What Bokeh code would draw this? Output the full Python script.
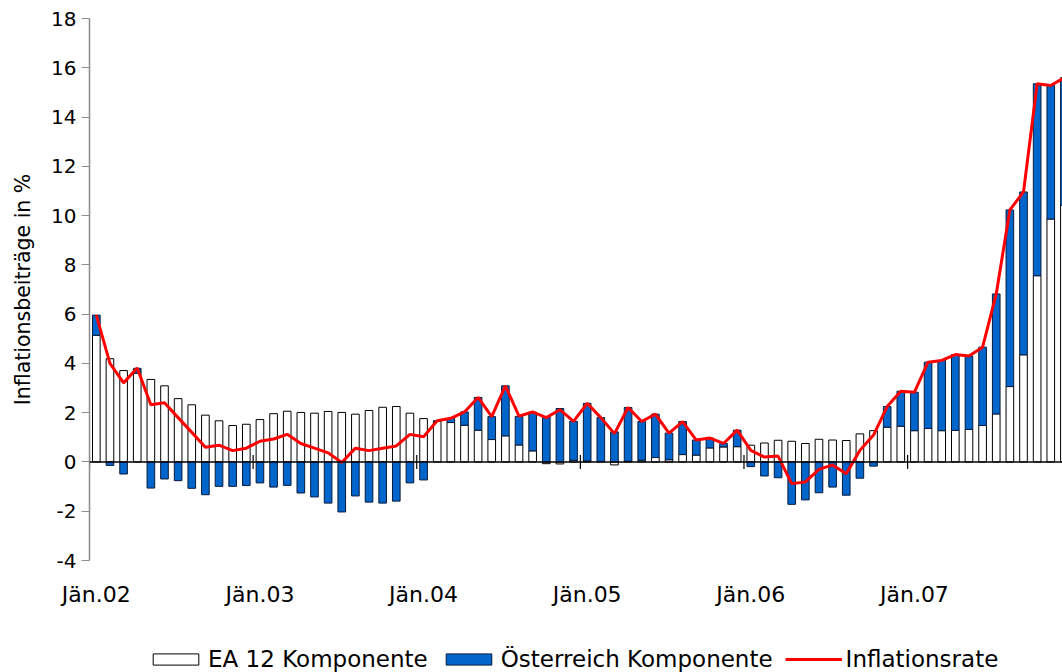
from bokeh.plotting import figure
from bokeh.layouts import column
from bokeh.models import Range1d, FixedTicker, LinearAxis, Legend, LegendItem, ColumnDataSource, Span
from bokeh.embed import file_html
from bokeh.resources import INLINE

# Monthly data Jän.02 .. Dez.07
months = list(range(72))
ea12 = [5.14, 4.19, 3.71, 3.60, 3.35, 3.09, 2.57, 2.32, 1.90, 1.67, 1.48, 1.53,
        1.72, 1.96, 2.06, 2.01, 1.98, 2.05, 2.01, 1.94, 2.09, 2.22, 2.25, 1.98,
        1.76, 1.65, 1.60, 1.49, 1.29, 0.91, 1.06, 0.69, 0.45, -0.07, -0.08, 0.07,
        0.04, 0.02, -0.12, 0.03, 0.07, 0.18, 0.09, 0.30, 0.28, 0.57, 0.61, 0.62,
        0.68, 0.77, 0.88, 0.84, 0.75, 0.92, 0.89, 0.87, 1.14, 1.27, 1.41, 1.45,
        1.27, 1.36, 1.27, 1.28, 1.32, 1.48, 1.95, 3.06, 4.35, 7.56, 9.86, 10.42]
austria = [0.82, -0.14, -0.49, 0.20, -1.06, -0.69, -0.76, -1.07, -1.33, -0.99, -0.99, -0.96,
           -0.85, -1.02, -0.95, -1.26, -1.42, -1.67, -2.03, -1.38, -1.63, -1.67, -1.59, -0.85,
           -0.73, 0.02, 0.17, 0.54, 1.33, 0.93, 2.03, 1.16, 1.57, 1.84, 2.17, 1.58,
           2.34, 1.78, 1.22, 2.18, 1.57, 1.76, 1.08, 1.34, 0.61, 0.40, 0.14, 0.67,
           -0.19, -0.57, -0.64, -1.72, -1.54, -1.25, -1.02, -1.35, -0.66, -0.17, 0.84, 1.42,
           1.56, 2.69, 2.85, 3.08, 2.98, 3.18, 4.87, 7.17, 6.61, 7.79, 5.42, 5.18]
inflation = [5.96, 4.00, 3.21, 3.81, 2.32, 2.40, 1.80, 1.20, 0.60, 0.68, 0.46, 0.56,
             0.84, 0.93, 1.12, 0.75, 0.56, 0.37, -0.02, 0.56, 0.46, 0.56, 0.65, 1.12,
             1.02, 1.67, 1.77, 2.03, 2.62, 1.84, 3.09, 1.86, 2.03, 1.80, 2.12, 1.65,
             2.38, 1.80, 1.15, 2.21, 1.64, 1.94, 1.17, 1.64, 0.89, 0.97, 0.75, 1.29,
             0.47, 0.20, 0.24, -0.88, -0.81, -0.30, -0.12, -0.48, 0.47, 1.09, 2.25, 2.87,
             2.83, 4.05, 4.12, 4.36, 4.30, 4.66, 6.82, 10.23, 10.96, 15.35, 15.28, 15.60]
year_ticks = [0, 12, 24, 36, 48, 60]
year_labels = ["Jän.02", "Jän.03", "Jän.04", "Jän.05", "Jän.06", "Jän.07"]
y_ticks = [-4, -2, 0, 2, 4, 6, 8, 10, 12, 14, 16, 18]
series_names = ["EA 12 Komponente", "Österreich Komponente", "Inflationsrate"]

# stacking (positive and negative parts stacked separately)
ea_bottom = [min(e, 0) for e in ea12]
ea_top = [max(e, 0) for e in ea12]
at_bottom, at_top = [], []
for e, a in zip(ea12, austria):
    if a >= 0:
        b = max(e, 0)
        at_bottom.append(b)
        at_top.append(b + a)
    else:
        t = min(e, 0)
        at_top.append(t)
        at_bottom.append(t + a)

src = ColumnDataSource(dict(x=months, ea_b=ea_bottom, ea_t=ea_top,
                            at_b=at_bottom, at_t=at_top, infl=inflation))

FONT = "DejaVu Sans"
FRAME_H = 542
Y0, Y1 = -4, 18
XR = (-0.5, 70.86)
WHITE_BAR = dict(fill_color="white", line_color="black", line_width=1)
BLUE_BAR = dict(fill_color="#0066CC", line_color="#0a1a3a", line_width=1)
RED_LINE = dict(line_color="#FF0000", line_width=3)

p = figure(frame_width=973, frame_height=FRAME_H, output_backend="svg", toolbar_location=None,
           x_range=Range1d(*XR), y_range=Range1d(Y0, Y1),
           x_axis_location=None, y_axis_location=None,
           min_border_left=89, min_border_right=0, min_border_top=18, min_border_bottom=86)
p.outline_line_color = None
p.xgrid.visible = False
p.ygrid.visible = False
p.background_fill_color = "white"
p.border_fill_color = "white"

p.vbar(x="x", bottom="ea_b", top="ea_t", width=0.56, source=src, **WHITE_BAR)
p.vbar(x="x", bottom="at_b", top="at_t", width=0.56, source=src, **BLUE_BAR)
p.line(x="x", y="infl", source=src, **RED_LINE)

# zero line with year-boundary cross ticks
p.add_layout(Span(location=0, dimension="width", line_color="black", line_width=1.5))
boundaries = [t - 0.5 for t in year_ticks]
half = 7 * (Y1 - Y0) / FRAME_H
p.segment(x0=boundaries, x1=boundaries, y0=[-half] * len(boundaries), y1=[half] * len(boundaries),
          line_color="black", line_width=1.2)

# y axis
yax = LinearAxis(ticker=FixedTicker(ticks=y_ticks),
                 major_label_overrides={t: str(t) for t in y_ticks if t < 0})
yax.axis_label = "Inflationsbeiträge in %"
yax.axis_label_text_font = FONT
yax.axis_label_text_font_size = "20.5px"
yax.axis_label_text_font_style = "normal"
yax.axis_label_text_color = "#000000"
yax.axis_label_standoff = 13
yax.major_label_text_font = FONT
yax.major_label_text_font_size = "20px"
yax.major_label_text_color = "#000000"
yax.major_label_standoff = 5
yax.axis_line_color = "#8c8c8c"
yax.axis_line_width = 1.5
yax.major_tick_line_color = "#8c8c8c"
yax.major_tick_out = 8
yax.major_tick_in = 0
yax.minor_tick_line_color = None
p.add_layout(yax, "left")

# category labels
xlab = LinearAxis(ticker=FixedTicker(ticks=year_ticks),
                  major_label_overrides={t: l for t, l in zip(year_ticks, year_labels)})
xlab.axis_line_color = None
xlab.major_tick_line_color = None
xlab.minor_tick_line_color = None
xlab.major_label_text_font = FONT
xlab.major_label_text_font_size = "22px"
xlab.major_label_text_color = "#000000"
xlab.major_label_standoff = 15
p.add_layout(xlab, "below")

# legend strip below the chart (same series, drawn outside its visible y range)
lf = figure(frame_width=973, frame_height=26, output_backend="svg", toolbar_location=None,
            x_range=Range1d(*XR), y_range=Range1d(100, 101),
            x_axis_location=None, y_axis_location=None,
            min_border_left=89, min_border_right=0, min_border_top=0, min_border_bottom=0)
lf.outline_line_color = None
lf.xgrid.visible = False
lf.ygrid.visible = False
lf.background_fill_color = "white"
lf.border_fill_color = "white"
l_ea = lf.vbar(x="x", bottom="ea_b", top="ea_t", width=0.56, source=src, **WHITE_BAR)
l_at = lf.vbar(x="x", bottom="at_b", top="at_t", width=0.56, source=src, **BLUE_BAR)
l_in = lf.line(x="x", y="infl", source=src, **RED_LINE)
legend = Legend(items=[LegendItem(label=series_names[0], renderers=[l_ea]),
                       LegendItem(label=series_names[1], renderers=[l_at]),
                       LegendItem(label=series_names[2], renderers=[l_in])],
                orientation="horizontal", location=(58, 0),
                border_line_color=None, background_fill_alpha=0,
                glyph_width=57, glyph_height=14, label_standoff=4, spacing=12,
                label_text_font=FONT, label_text_font_size="23px", label_text_color="#000000",
                label_height=26, padding=0, margin=0)
lf.add_layout(legend, "center")

layout = column(p, lf, spacing=0)
open("out.html", "w").write(file_html(layout, INLINE))
